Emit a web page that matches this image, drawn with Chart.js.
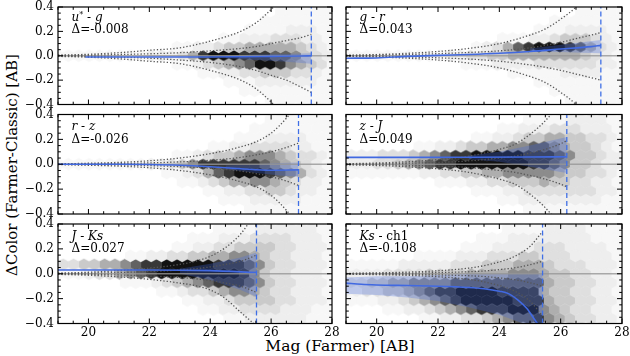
<!DOCTYPE html>
<html>
<head>
<meta charset="utf-8">
<script src="https://cdn.jsdelivr.net/npm/chart.js@4.4.0/dist/chart.umd.min.js"></script>
<style>
  html, body { margin: 0; padding: 0; background: #fff; }
  #fig { position: relative; width: 630px; height: 356px; overflow: hidden; font-family: 'DejaVu Serif', serif; }
  #fig canvas { position: absolute; left: 0; top: 0; }
  .lbl { position: absolute; font-size: 12px; line-height: 12.5px; color: #000; white-space: nowrap; z-index: 5; }
  .lbl sup { font-size: 8px; vertical-align: 4px; line-height: 0; }
  #xtitle { position: absolute; left: 340px; top: 338px; transform: translateX(-50%); font-size: 15.5px; line-height: 16px; white-space: nowrap; }
  #ytitle { position: absolute; left: 12px; top: 165px; transform: translate(-50%, -50%) rotate(-90deg); font-size: 15px; line-height: 15px; white-space: nowrap; }
</style>
</head>
<body>
<div id="fig">
  <div id="xtitle">Mag (Farmer) [AB]</div>
  <div id="ytitle">ΔColor (Farmer-Classic) [AB]</div>
</div>
<script>
// panels, left to right, top to bottom
const xMajor = [20, 22, 24, 26, 28];
const yMajor = [-0.4, -0.2, 0, 0.2, 0.4];
const panelLabels = ['<i>u</i><sup>*</sup> - <i>g</i>', '<i>g</i> - <i>r</i>', '<i>r</i> - <i>z</i>',
                     '<i>z</i> - <i>J</i>', '<i>J</i> - <i>Ks</i>', '<i>Ks</i> - ch1'];
const deltas = ['-0.008', '0.043', '-0.026', '0.049', '0.027', '-0.108'];
const cutoffs = [27.32, 27.31, 26.9, 26.2, 25.52, 25.41];

// running median (blue line)
const medMags = [
  [19.9, 21, 22, 23, 24, 25, 26, 27, 27.32],
  [19, 20, 21, 22, 23, 24, 25, 26, 27, 27.31],
  [19, 20, 21, 22, 23, 24, 25, 26, 26.9],
  [19, 21, 23, 25, 26.2],
  [19, 22, 24, 25.52],
  [19, 19.5, 20, 21, 22, 23, 23.5, 24, 24.3, 24.6, 24.9, 25.1, 25.3, 25.41]
];
const medVals = [
  [-0.01, -0.01, -0.01, -0.01, -0.01, -0.008, -0.005, -0.002, 0.0],
  [-0.02, -0.018, -0.005, 0.003, 0.01, 0.02, 0.035, 0.055, 0.075, 0.085],
  [0, 0, 0, -0.002, -0.008, -0.02, -0.036, -0.048, -0.045],
  [0.055, 0.055, 0.056, 0.058, 0.06],
  [0.03, 0.03, 0.025, 0.01],
  [-0.075, -0.085, -0.09, -0.095, -0.1, -0.11, -0.12, -0.14, -0.16, -0.21, -0.28, -0.35, -0.42, -0.46]
];

// shaded spread (blue band)
const bandMags = [
  [24.5, 25.5, 26.5, 27.32],
  [25, 26, 26.7, 27.31],
  [24.5, 25.5, 26.3, 26.9],
  [23, 24, 25, 26.2],
  [23, 24, 25, 25.52],
  [19, 20, 21, 22, 23, 24, 25, 25.41]
];
const bandLow = [
  [-0.02, -0.035, -0.05, -0.065],
  [0.03, 0.03, 0.025, 0.02],
  [-0.04, -0.07, -0.09, -0.1],
  [0.04, 0.02, -0.02, -0.07],
  [0.0, -0.05, -0.13, -0.185],
  [-0.16, -0.17, -0.19, -0.22, -0.27, -0.33, -0.42, -0.46]
];
const bandHigh = [
  [0.0, 0.01, 0.015, 0.02],
  [0.06, 0.09, 0.11, 0.13],
  [-0.01, 0.0, 0.01, 0.015],
  [0.07, 0.1, 0.15, 0.22],
  [0.04, 0.08, 0.13, 0.17],
  [-0.03, -0.02, -0.02, -0.01, 0.0, 0.0, 0.0, 0.0]
];

// error envelopes (dotted)
const envMags = [
  [19, 20, 21, 22, 23, 24, 25, 25.5, 26, 26.5, 27, 27.32],
  [19, 20, 21, 22, 23, 24, 25, 25.5, 26, 26.5, 27, 27.31],
  [19, 20, 21, 22, 23, 24, 25, 25.5, 26, 26.5, 26.9],
  [19, 20, 21, 22, 23, 24, 24.5, 25, 25.5, 26, 26.2],
  [19, 20, 21, 22, 23, 23.5, 24, 24.5, 25, 25.52],
  [19, 20, 21, 22, 23, 23.5, 24, 24.5, 25, 25.41]
];
const envUpOuter = [
  [0.005, 0.012, 0.025, 0.045, 0.065, 0.12, 0.2, 0.27, 0.38, 0.52, 0.7, 0.85],
  [0.004, 0.01, 0.02, 0.035, 0.06, 0.1, 0.17, 0.22, 0.3, 0.4, 0.55, 0.65],
  [0.003, 0.008, 0.015, 0.028, 0.05, 0.085, 0.14, 0.18, 0.25, 0.37, 0.5],
  [0.004, 0.01, 0.02, 0.037, 0.065, 0.12, 0.16, 0.24, 0.35, 0.5, 0.58],
  [0.005, 0.012, 0.025, 0.045, 0.075, 0.1, 0.14, 0.21, 0.32, 0.5],
  [0.003, 0.007, 0.013, 0.024, 0.045, 0.065, 0.095, 0.14, 0.22, 0.34]
];
const envUpInner = [
  [0.002, 0.005, 0.01, 0.016, 0.025, 0.04, 0.06, 0.075, 0.1, 0.125, 0.15, 0.175],
  [0.002, 0.005, 0.01, 0.017, 0.027, 0.04, 0.065, 0.085, 0.11, 0.14, 0.17, 0.19],
  [0.001, 0.003, 0.006, 0.011, 0.019, 0.032, 0.055, 0.075, 0.1, 0.135, 0.17],
  [0.002, 0.004, 0.008, 0.015, 0.027, 0.05, 0.065, 0.09, 0.12, 0.165, 0.19],
  [0.002, 0.005, 0.01, 0.018, 0.03, 0.04, 0.055, 0.075, 0.1, 0.15],
  [0.001, 0.003, 0.005, 0.009, 0.016, 0.022, 0.033, 0.048, 0.072, 0.1]
];
const envLowInner = [
  [-0.003, -0.006, -0.012, -0.02, -0.035, -0.055, -0.09, -0.12, -0.16, -0.2, -0.26, -0.3],
  [-0.002, -0.005, -0.01, -0.017, -0.027, -0.045, -0.075, -0.095, -0.12, -0.15, -0.18, -0.2],
  [-0.001, -0.003, -0.006, -0.011, -0.019, -0.032, -0.055, -0.075, -0.1, -0.135, -0.17],
  [-0.002, -0.004, -0.008, -0.015, -0.027, -0.05, -0.065, -0.09, -0.12, -0.16, -0.18],
  [-0.002, -0.005, -0.01, -0.018, -0.03, -0.04, -0.055, -0.075, -0.1, -0.15],
  [-0.001, -0.003, -0.005, -0.009, -0.016, -0.022, -0.033, -0.048, -0.072, -0.1]
];
const envLowOuter = [
  [-0.005, -0.012, -0.025, -0.045, -0.065, -0.12, -0.2, -0.27, -0.38, -0.52, -0.7, -0.85],
  [-0.004, -0.01, -0.02, -0.035, -0.06, -0.1, -0.17, -0.22, -0.3, -0.4, -0.55, -0.65],
  [-0.003, -0.008, -0.015, -0.028, -0.05, -0.085, -0.14, -0.18, -0.25, -0.37, -0.5],
  [-0.004, -0.01, -0.02, -0.037, -0.065, -0.12, -0.16, -0.24, -0.35, -0.5, -0.58],
  [-0.005, -0.012, -0.025, -0.045, -0.075, -0.095, -0.13, -0.2, -0.31, -0.42],
  [-0.003, -0.007, -0.013, -0.024, -0.045, -0.065, -0.095, -0.14, -0.22, -0.34]
];

// hexbin density levels (0 empty .. 9 densest), one string per hex row, rows listed top to bottom
const hexRows = [5, 4, 3, 2, 1, 0, -1, -2, -3, -4, -5];
const hexCounts = [
  ['000000000000000000000111111',
   '000000000000000000001111111',
   '000000000000000000111122211',
   '000000000000000011222333221',
   '000000000001122344555554321',
   '111111111222358999888776432',
   '000000000001123456799865431',
   '000000000000001122334443321',
   '000000000000000011122222211',
   '000000000000000000111111111',
   '000000000000000000001111111'],
  ['000000000000000000000011111',
   '000000000000000000001111111',
   '000000000000000000111222211',
   '000000000000000111223444321',
   '000000000000123578999875321',
   '111111111122334455555554321',
   '000000000001112222333333221',
   '000000000000000011111222211',
   '000000000000000000111111111',
   '000000000000000000001111111',
   '000000000000000000000111111'],
  ['000000000000000000001111111',
   '000000000000000000011111111',
   '000000000000000001112222111',
   '000000000000000112233332211',
   '000000000001123445666543321',
   '111111111223468888887654321',
   '000000000011235789998765321',
   '000000000000112345566543221',
   '000000000000001122334432211',
   '000000000000000011122222111',
   '000000000000000000111111111'],
  ['000000000000000001111222211',
   '000000000000000112223332221',
   '000000000000112234455443321',
   '000000011223445566776544321',
   '222333456788999998887644322',
   '222334567889999999887644322',
   '111111122334455666665443321',
   '000000000111223344454433221',
   '000000000000111223333333221',
   '000000000000000112222222211',
   '000000000000000001111111111'],
  ['000000000000000111122222211',
   '000000000000011122233332221',
   '000000000001122334444332221',
   '000000011223344556654332221',
   '334455678899999888764332221',
   '111233567899999999864332221',
   '000000111234567888764332221',
   '000000000011233456654332221',
   '000000000000112234444332221',
   '000000000000001122333322211',
   '000000000000000011222222111'],
  ['000000000000000111122221111',
   '000000000000011122222222111',
   '000000000001112222333222211',
   '000000011112223334433322221',
   '111112222233344455543332221',
   '222233334444555566654433221',
   '334455666677777777754433221',
   '223344567889999888854433221',
   '111223456789999988854433221',
   '000011223456788899965433221',
   '000000011223345677865433221']
];

// layout of the 2x3 grid (pixels)
const colLeft = [58, 346], colRight = [332, 622];
const rowTop = [5, 114.5, 224], rowBottom = [104.5, 214, 323.5];
const hexDx = 0.34, hexDy = 0.072;
const greys = ['', '#f7f7f7', '#eeeeee', '#dfdfdf', '#cacaca', '#aeaeae', '#8c8c8c', '#626262', '#383838', '#121212'];
const tickFont = { family: 'DejaVu Serif', size: 12 };

function hexImage(color, w, h) {
  const c = document.createElement('canvas');
  c.width = Math.ceil(w) + 2;
  c.height = Math.ceil(h) + 2;
  const g = c.getContext('2d');
  const cx = c.width / 2, cy = c.height / 2, hw = w / 2 + 0.35, hh = h / 2 + 0.35;
  g.beginPath();
  g.moveTo(cx, cy - hh);
  g.lineTo(cx + hw, cy - hh / 2);
  g.lineTo(cx + hw, cy + hh / 2);
  g.lineTo(cx, cy + hh);
  g.lineTo(cx - hw, cy + hh / 2);
  g.lineTo(cx - hw, cy - hh / 2);
  g.closePath();
  g.fillStyle = color;
  g.fill();
  return c;
}

const toXY = (xs, ys) => xs.map((x, i) => ({ x, y: ys[i] }));

// frame + inward ticks on all four sides
const frameTicks = {
  id: 'frameTicks',
  afterDatasetsDraw(chart) {
    const { ctx, chartArea: a, scales: { x, y } } = chart;
    ctx.save();
    ctx.strokeStyle = '#000';
    ctx.lineWidth = 1;
    ctx.beginPath();
    for (let v = 19; v <= 28.001; v += 0.5) {
      const px = x.getPixelForValue(v);
      const len = xMajor.some(m => Math.abs(m - v) < 1e-6) ? 5 : 2.8;
      ctx.moveTo(px, a.bottom); ctx.lineTo(px, a.bottom - len);
      ctx.moveTo(px, a.top); ctx.lineTo(px, a.top + len);
    }
    for (let k = -8; k <= 8; k++) {
      const v = k * 0.05;
      const py = y.getPixelForValue(v);
      const len = k % 4 === 0 ? 5 : 2.8;
      ctx.moveTo(a.left, py); ctx.lineTo(a.left + len, py);
      ctx.moveTo(a.right, py); ctx.lineTo(a.right - len, py);
    }
    ctx.stroke();
    ctx.lineWidth = 1.2;
    ctx.strokeRect(a.left, a.top, a.right - a.left, a.bottom - a.top);
    ctx.restore();
  }
};

const fig = document.getElementById('fig');

for (let p = 0; p < 6; p++) {
  const col = p % 2, row = Math.floor(p / 2);
  const left = colLeft[col], right = colRight[col], top = rowTop[row], bottom = rowBottom[row];
  const yw = col === 0 ? 45 : 0, xh = row === 2 ? 22 : 0;

  const canvas = document.createElement('canvas');
  canvas.width = 630;
  canvas.height = 356;
  fig.appendChild(canvas);

  const lbl = document.createElement('div');
  lbl.className = 'lbl';
  lbl.style.left = (left + 13.5) + 'px';
  lbl.style.top = (top + 5.5) + 'px';
  lbl.innerHTML = panelLabels[p] + '<br>Δ=' + deltas[p];
  fig.appendChild(lbl);

  // hex sprites sized to this panel's scale
  const hexW = hexDx * (right - left) / 9;
  const hexH = hexDy * (bottom - top) / 0.8 * 4 / 3;
  const hexSets = [];
  for (let lev = 1; lev <= 9; lev++) {
    const pts = [];
    hexRows.forEach((j, r) => {
      const line = hexCounts[p][r];
      for (let k = 0; k < line.length; k++) {
        if (+line[k] === lev) {
          pts.push({ x: 19 + k * hexDx + (Math.abs(j) % 2 ? hexDx / 2 : 0), y: j * hexDy });
        }
      }
    });
    hexSets.push({
      type: 'scatter', data: pts, pointStyle: hexImage(greys[lev], hexW, hexH),
      pointRadius: 6, order: 10, clip: 0
    });
  }

  const lineBase = { type: 'line', pointRadius: 0, fill: false, clip: 0 };
  const dotted = { ...lineBase, borderColor: '#555', borderWidth: 1.3, borderDash: [1.3, 2], cubicInterpolationMode: 'monotone', order: 4 };
  const datasets = [
    { ...lineBase, data: toXY([cutoffs[p], cutoffs[p]], [-0.4, 0.4]), borderColor: '#3f6fe6', borderWidth: 1.3, borderDash: [5, 3], order: 1 },
    { ...lineBase, data: toXY(medMags[p], medVals[p]), borderColor: '#4169e1', borderWidth: 1.6, cubicInterpolationMode: 'monotone', order: 2 },
    { ...dotted, data: toXY(envMags[p], envUpOuter[p]) },
    { ...dotted, data: toXY(envMags[p], envUpInner[p]) },
    { ...dotted, data: toXY(envMags[p], envLowInner[p]) },
    { ...dotted, data: toXY(envMags[p], envLowOuter[p]) },
    { ...lineBase, data: toXY([19, 28], [0, 0]), borderColor: 'rgba(150,150,150,0.8)', borderWidth: 1.5, order: 5 },
    { ...lineBase, data: toXY(bandMags[p], bandLow[p]), borderWidth: 0, order: 6 },
    { ...lineBase, data: toXY(bandMags[p], bandHigh[p]), borderWidth: 0, fill: '-1', backgroundColor: 'rgba(65,105,225,0.28)', order: 6 },
    ...hexSets
  ];

  new Chart(canvas, {
    type: 'scatter',
    data: { datasets },
    options: {
      responsive: false,
      animation: false,
      events: [],
      layout: { padding: { left: left - yw, right: 630 - right, top: top, bottom: 356 - bottom - xh } },
      plugins: { legend: { display: false }, tooltip: { enabled: false } },
      scales: {
        x: {
          type: 'linear', min: 19, max: 28,
          grid: { display: false, drawTicks: false }, border: { display: false },
          afterBuildTicks: s => { s.ticks = xMajor.map(v => ({ value: v })); },
          afterFit: s => { s.height = xh; s.paddingLeft = s.paddingRight = s.paddingTop = s.paddingBottom = 0; },
          ticks: { display: row === 2, padding: 2, maxRotation: 0, autoSkip: false, font: tickFont, color: '#000',
                   callback: v => String(v) }
        },
        y: {
          type: 'linear', min: -0.4, max: 0.4,
          grid: { display: false, drawTicks: false }, border: { display: false },
          afterBuildTicks: s => { s.ticks = yMajor.map(v => ({ value: v })); },
          afterFit: s => { s.width = yw; s.paddingLeft = s.paddingRight = s.paddingTop = s.paddingBottom = 0; },
          ticks: { display: col === 0, padding: 4, autoSkip: false, font: tickFont, color: '#000',
                   callback: v => Math.abs(v) < 1e-9 ? '0.0' : (v < 0 ? '\u2212' : '') + Math.abs(v).toFixed(1) }
        }
      }
    },
    plugins: [frameTicks]
  });
}
</script>
</body>
</html>
